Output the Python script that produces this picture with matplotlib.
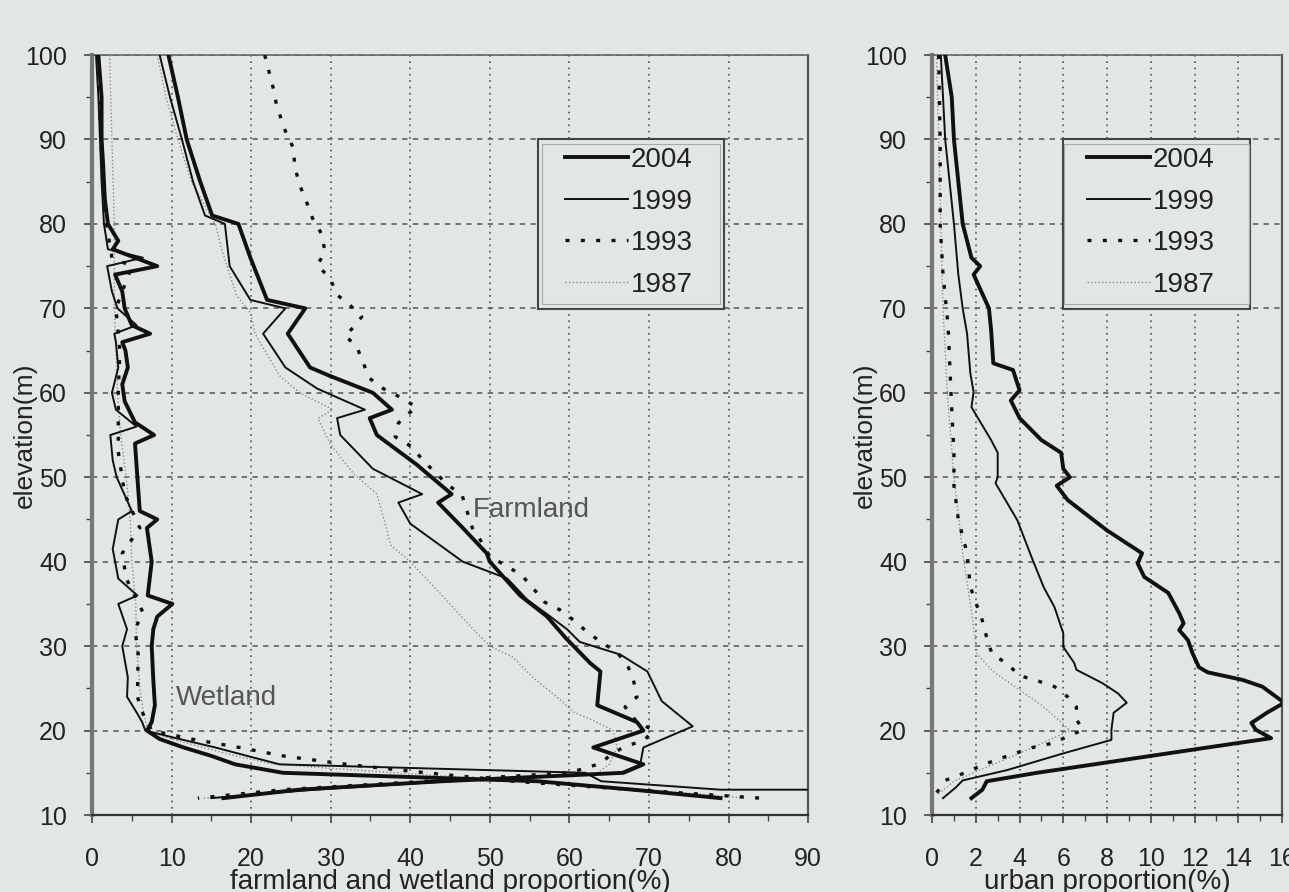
import matplotlib
matplotlib.use("Agg")
import matplotlib.pyplot as plt
from matplotlib.patches import Rectangle
from matplotlib.ticker import MultipleLocator

plt.rcParams['font.family'] = ['Liberation Sans', 'DejaVu Sans']

# ---- left panel: farmland (upper curves) and wetland (left curves) ----
farm_2004_elev = [100, 95, 90, 85, 81, 80, 76, 71, 70, 67, 63, 62, 60, 58, 57, 55, 51.5, 48, 47, 44, 41, 40,
                  36, 33.5, 31, 28, 27, 23, 21, 20, 18, 16, 15, 14, 13, 12]
farm_2004 = [9.6, 10.8, 11.9, 13.6, 15.1, 18.4, 19.9, 22.0, 26.8, 24.6, 27.4, 29.9, 35.3, 37.7, 34.9, 35.8, 40.8,
             45.2, 43.5, 46.6, 49.6, 50.0, 53.8, 57.2, 59.5, 62.6, 63.9, 63.5, 68.5, 69.3, 63.0, 69.3, 66.8, 44,
             26, 16.5]

farm_1999_elev = [100, 95, 90, 85, 81, 80, 75, 71, 70, 67, 63, 60.5, 58, 57, 55, 51, 48, 47, 44.5, 40, 38, 35.5,
                  33.5, 32, 30.5, 29, 27, 23.5, 20.5, 18, 16, 15, 14, 13, 12]
farm_1999 = [8.5, 9.8, 11.3, 12.7, 14.2, 16.7, 17.3, 19.9, 24.3, 21.5, 24.3, 28.3, 34.3, 30.8, 31.2, 35.3, 41.5,
             38.5, 40.0, 46.6, 52.2, 54.7, 57.6, 59.7, 61.3, 66.4, 69.8, 71.6, 75.5, 69.3, 68.9, 66.4, 45, 28, 15]

farm_1993_elev = [100, 96, 94, 91, 89, 86.7, 84.6, 82.5, 80.7, 78.9, 76.7, 75.1, 73.6, 71.6, 70.4, 69, 67.7, 66.8,
                  65.4, 63.5, 61.7, 60.5, 59.5, 58.3, 57.4, 56.4, 54.8, 53.6, 52, 49.1, 47.9, 44, 42, 40.6, 39.6,
                  38.4, 36.9, 35.2, 34.3, 33.1, 31.7, 30.4, 29.3, 27.5, 26.2, 24, 22.8, 21, 20.1, 18.9, 18.1, 17.3,
                  16.1, 15, 14, 13, 12]
farm_1993 = [21.7, 22.8, 23.2, 24.3, 25.3, 25.5, 26.1, 27.0, 27.7, 28.8, 29.3, 28.3, 29.9, 30.8, 32.4, 33.9, 32.8,
             31.8, 33.3, 34.1, 34.9, 36.6, 38.7, 40.8, 39.6, 38.5, 38.1, 40.2, 41.6, 44.7, 46.5, 47.8, 49.2, 50.0,
             51.9, 54.0, 55.4, 56.9, 58.8, 60.5, 62.2, 64.1, 66.0, 67.4, 68.0, 68.5, 67.0, 68.5, 70.5, 69.5, 67.0,
             65.4, 63.9, 60, 42, 24, 13.3]

farm_1987_elev = [100, 95, 90, 85, 80, 77, 74, 71.5, 69.5, 67, 66, 62, 60, 58, 57, 54, 50.5, 48, 44, 42, 40, 36.3,
                  32, 30, 28.7, 26.3, 24, 22.2, 21.2, 20, 18, 16, 15, 14, 13, 12]
farm_1987 = [8.2, 9.3, 10.8, 12.5, 15.5, 16.3, 17.3, 18.2, 19.9, 20.5, 21.1, 23.6, 26.1, 30.3, 28.4, 29.9, 32.8,
             35.8, 37.0, 37.5, 40.0, 43.7, 47.9, 50.0, 52.9, 55.4, 58.4, 60.5, 63.0, 65.5, 66.0, 65.0, 63.5, 44,
             27, 14]

wet_2004_elev = [100, 95, 90, 87, 83, 80, 78, 77, 75, 74, 72, 70, 68, 67, 66, 65, 63, 61, 59, 56.5, 55, 54, 50, 46,
                 45, 44, 40, 36, 35, 33.5, 32, 30, 26, 23, 21, 20, 19, 18, 17, 16, 15, 14, 13, 12]
wet_2004 = [0.8, 1.2, 1.2, 1.4, 1.6, 2.0, 3.3, 2.6, 8.2, 2.9, 3.8, 4.1, 5.0, 7.3, 3.8, 4.2, 4.5, 3.8, 4.1, 5.4, 7.8,
            5.4, 5.7, 6.0, 8.2, 6.9, 7.5, 7.0, 10.1, 8.2, 7.7, 7.5, 7.7, 7.9, 7.5, 6.9, 8.5, 11.5, 15, 18, 24, 56,
            68, 79]

wet_1999_elev = [100, 95, 90, 85, 80, 77, 76, 75, 72, 70, 68, 67, 66, 63, 60, 58, 56, 55, 52, 50, 46, 45, 41.5,
                 38, 36, 35, 32, 30, 26.3, 24, 22, 21, 20, 19, 18, 17, 16, 15, 14, 13, 13]
wet_1999 = [0.5, 0.8, 1.0, 1.2, 1.5, 2.0, 6.4, 1.9, 2.5, 3.2, 5.6, 2.8, 3.0, 3.3, 2.5, 3.0, 5.6, 2.3, 2.6, 3.1,
            5.0, 3.3, 2.6, 3.3, 5.7, 3.3, 4.4, 3.8, 4.5, 4.4, 5.7, 6.3, 6.7, 11, 15.5, 19.5, 23.6, 62, 64, 79, 100]

wet_1993_elev = [100, 90, 80, 76, 75, 70, 65, 60, 53, 48, 44, 41, 38, 34, 32, 29, 24, 22, 20, 19, 18, 17, 16, 15,
                 14, 13, 12]
wet_1993 = [0.8, 1.1, 1.8, 2.5, 5.0, 3.0, 3.5, 3.3, 3.3, 4.1, 6.0, 3.8, 4.3, 6.4, 5.4, 5.8, 5.7, 6.4, 7.5, 12.5,
            18.5, 24, 32, 42, 53, 68, 84]

wet_1987_elev = [100, 90, 80, 70, 60, 55, 50, 45, 40, 35, 30, 25, 22, 20, 19, 18, 17, 16, 15, 14, 13, 12]
wet_1987 = [2.2, 2.5, 2.8, 2.8, 3.2, 3.6, 4.3, 4.8, 5.0, 5.5, 5.6, 6.0, 6.5, 7.0, 10, 14, 18, 23, 38, 55, 70, 82]

# ---- right panel: urban ----
urb_2004_elev = [100, 95, 90, 85, 80, 76, 75, 74, 70, 67.4, 63.5, 62.7, 60.3, 59.1, 57, 54.4, 52.9, 51, 50, 49,
                 47.3, 43.7, 41, 39.8, 38.2, 36.3, 33.9, 32.7, 31.9, 30.7, 29.2, 27.5, 26.9, 26, 25.2, 23.3, 22.1,
                 20.9, 20.1, 19.1, 18, 17, 16, 15, 14, 13, 12]
urb_2004 = [0.6, 0.9, 1.0, 1.2, 1.4, 1.8, 2.2, 1.9, 2.6, 2.7, 2.8, 3.7, 4.0, 3.6, 4.0, 5.0, 5.9, 6.0, 6.3, 5.7,
            6.2, 8.0, 9.6, 9.4, 9.7, 10.8, 11.3, 11.5, 11.3, 11.7, 11.9, 12.2, 12.6, 14.2, 15.1, 16.1, 15.3, 14.6,
            14.8, 15.5, 12.6, 10.0, 7.4, 4.8, 2.5, 2.3, 1.8]

urb_1999_elev = [100, 90, 80, 74, 70, 67, 62.3, 60.1, 58.3, 54.4, 52.9, 50, 49.3, 44.9, 40.2, 37, 34.6, 31.5, 29.9,
                 28, 27.2, 25.6, 24.4, 23.3, 22.1, 20.1, 18.9, 17.3, 15.3, 14.1, 13.3, 12]
urb_1999 = [0.4, 0.6, 1.0, 1.2, 1.4, 1.6, 1.75, 1.9, 1.8, 2.7, 3.0, 3.0, 2.9, 3.9, 4.6, 5.1, 5.6, 6.0, 6.0, 6.5,
            6.6, 7.8, 8.5, 8.9, 8.3, 8.2, 8.2, 6.0, 3.4, 1.4, 1.1, 0.5]

urb_1993_elev = [100, 90, 80, 74, 68, 58, 53, 49, 45, 41, 37, 33, 31, 29, 28, 26.5, 26, 25.2, 24, 22.8, 21.3, 20.1,
                 19.3, 18.5, 18, 17.3, 16.6, 15.8, 15, 14.1, 12.6]
urb_1993 = [0.3, 0.37, 0.37, 0.5, 0.73, 0.9, 1.0, 1.0, 1.2, 1.6, 1.75, 2.3, 2.5, 2.75, 3.4, 4.0, 4.7, 5.6, 6.2,
            6.6, 6.6, 6.9, 6.2, 5.5, 4.6, 3.8, 3.0, 2.2, 1.5, 0.6, 0.2]

urb_1987_elev = [100, 90, 80, 70, 60, 50, 41, 35, 29, 27, 25, 23, 21, 20, 18, 16, 14, 12.5]
urb_1987 = [0.2, 0.3, 0.4, 0.5, 0.7, 1.0, 1.4, 1.75, 2.07, 2.8, 3.9, 5.0, 5.9, 6.3, 4.6, 2.8, 1.0, 0.3]

years = ['2004', '1999', '1993', '1987']

bg = '#e3e6e7'
styles = {
    '2004': dict(color='#111111', lw=2.8, ls='-'),
    '1999': dict(color='#111111', lw=1.4, ls='-'),
    '1993': dict(color='#111111', lw=2.4, ls=(0, (1.2, 3.4))),
    '1987': dict(color='#8a8a8a', lw=1.0, ls=(0, (1, 1.6))),
}

fig = plt.figure(figsize=(12.89, 8.92), dpi=100)
fig.patch.set_facecolor(bg)
ax1 = fig.add_axes([0.0714, 0.0863, 0.5555, 0.852])
ax2 = fig.add_axes([0.7231, 0.0863, 0.2715, 0.852])

farm = {'2004': (farm_2004, farm_2004_elev), '1999': (farm_1999, farm_1999_elev),
        '1993': (farm_1993, farm_1993_elev), '1987': (farm_1987, farm_1987_elev)}
wet = {'2004': (wet_2004, wet_2004_elev), '1999': (wet_1999, wet_1999_elev),
       '1993': (wet_1993, wet_1993_elev), '1987': (wet_1987, wet_1987_elev)}
urb = {'2004': (urb_2004, urb_2004_elev), '1999': (urb_1999, urb_1999_elev),
       '1993': (urb_1993, urb_1993_elev), '1987': (urb_1987, urb_1987_elev)}

handles1 = []
handles2 = []
for y in years[::-1]:
    ax1.plot(*wet[y], zorder=3, **styles[y])
for y in years[::-1]:
    h, = ax1.plot(*farm[y], zorder=3, **styles[y])
    handles1.insert(0, h)
    h2, = ax2.plot(*urb[y], zorder=3, **styles[y])
    handles2.insert(0, h2)

ax1.set_xlim(0, 90)
ax2.set_xlim(0, 16)
for ax, xmaj, xmin in [(ax1, 10, 5), (ax2, 2, 1)]:
    ax.set_facecolor(bg)
    ax.set_ylim(10, 100)
    ax.xaxis.set_major_locator(MultipleLocator(xmaj))
    ax.xaxis.set_minor_locator(MultipleLocator(xmin))
    ax.yaxis.set_major_locator(MultipleLocator(10))
    ax.yaxis.set_minor_locator(MultipleLocator(5))
    ax.xaxis.grid(True, which='major', ls=(0, (1, 2.5)), color='#666666', lw=1.3)
    ax.yaxis.grid(True, which='major', ls=(0, (3.5, 3.5)), color='#555555', lw=1.1)
    ax.set_axisbelow(True)
    ax.tick_params(axis='x', which='major', direction='out', length=6, width=1.2, color='#444444',
                   labelsize=18, pad=17, labelcolor='#222222')
    ax.tick_params(axis='x', which='minor', direction='out', length=4, width=1.0, color='#444444')
    ax.tick_params(axis='y', which='major', direction='out', length=6, width=1.2, color='#444444',
                   labelsize=18, pad=12, labelcolor='#222222')
    ax.tick_params(axis='y', which='minor', direction='out', length=4, width=1.0, color='#444444')
    ax.spines['left'].set_linewidth(3)
    ax.spines['left'].set_color('#777777')
    ax.spines['bottom'].set_linewidth(1.6)
    ax.spines['bottom'].set_color('#333333')
    ax.spines['top'].set_linewidth(1.2)
    ax.spines['top'].set_color('#666666')
    ax.spines['right'].set_linewidth(1.6)
    ax.spines['right'].set_color('#555555')
    ax.set_ylabel('elevation(m)', fontsize=19, color='#222222')

ax1.set_xlabel('farmland and wetland proportion(%)', fontsize=20, color='#222222')
ax2.set_xlabel('urban proportion(%)', fontsize=20, color='#222222')
ax1.xaxis.set_label_coords(0.5, -0.071)
ax2.xaxis.set_label_coords(0.5, -0.071)
ax1.yaxis.set_label_coords(-0.077, 0.5)
ax2.yaxis.set_label_coords(-0.157, 0.5)

ax1.text(47.9, 46.1, 'Farmland', fontsize=20, color='#555555', va='center', zorder=4)
ax1.text(10.6, 23.9, 'Wetland', fontsize=20, color='#555555', va='center', zorder=4)

# legend: separate frame rectangle so the box matches the reference padding
for ax, handles, fx, fw, lx in [(ax1, handles1, 0.623, 0.260, 0.661), (ax2, handles2, 0.374, 0.534, 0.443)]:
    ax.add_patch(Rectangle((fx, 0.666), fw, 0.223, transform=ax.transAxes, facecolor=bg,
                           edgecolor='#444444', lw=1.5, zorder=5))
    ax.add_patch(Rectangle((fx + 0.006 * 0.26 / fw, 0.672), fw - 0.012 * 0.26 / fw, 0.211,
                           transform=ax.transAxes, facecolor='none', edgecolor='#aaaaaa', lw=0.8, zorder=5))
    leg = ax.legend(handles, years, loc='upper left', bbox_to_anchor=(lx, 0.879), fontsize=20,
                    frameon=False, handlelength=2.25, handletextpad=0.1, labelspacing=0.56,
                    borderpad=0, borderaxespad=0)
    leg.set_zorder(6)
    for t in leg.get_texts():
        t.set_color('#222222')

fig.savefig('out.png', dpi=100, facecolor=bg)
